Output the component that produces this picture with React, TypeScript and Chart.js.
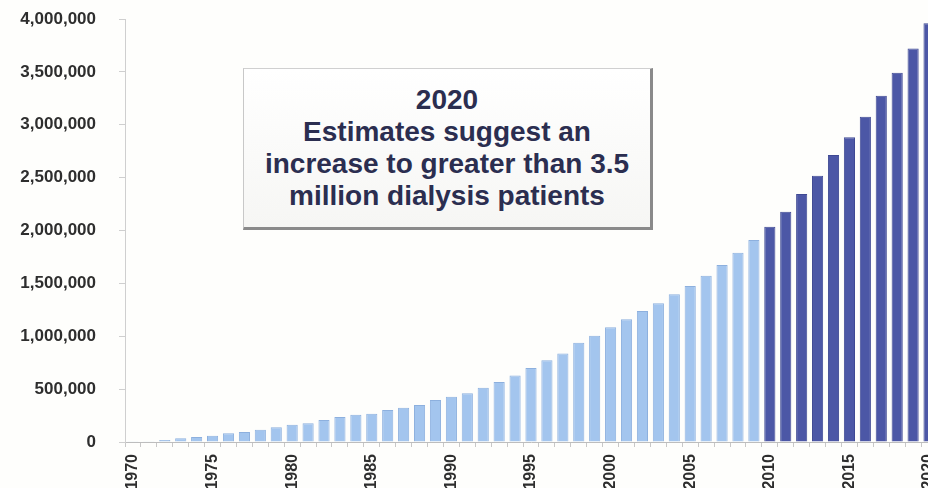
import React, { useEffect, useRef } from "react";
import { Chart, registerables } from "chart.js";

Chart.register(...registerables);

const years: string[] = [];
for (let y = 1970; y <= 2020; y++) years.push(String(y));

const actualPatients: number[] = [
  8000, 8000, 19000, 35000, 47000, 60000, 82000, 95000, 116000, 139000,
  164000, 177000, 208000, 236000, 258000, 268000, 303000, 324000, 350000, 397000,
  428000, 460000, 514000, 567000, 630000, 700000, 772000, 838000, 939000, 1005000,
  1084000, 1160000, 1239000, 1311000, 1396000, 1475000, 1573000, 1674000, 1790000, 1910000,
];

const projectedPatients: number[] = [
  2036000, 2178000, 2345000, 2518000, 2714000, 2881000, 3076000, 3275000, 3492000, 3722000, 3959000,
];

const yTicks: number[] = [0, 500000, 1000000, 1500000, 2000000, 2500000, 3000000, 3500000, 4000000];

const noteLines: string[] = [
  "2020",
  "Estimates suggest an",
  "increase to greater than 3.5",
  "million dialysis patients",
];

const FONT = "'Liberation Sans', Arial, Helvetica, sans-serif";

export default function App() {
  const ref = useRef<HTMLCanvasElement | null>(null);

  useEffect(() => {
    if (!ref.current) return;
    const nActual = actualPatients.length;
    const actualData = years.map((_, i) => (i < nActual ? actualPatients[i] : null));
    const projectedData = years.map((_, i) => (i >= nActual ? projectedPatients[i - nActual] : null));

    const chart = new Chart(ref.current, {
      type: "bar",
      data: {
        labels: years,
        datasets: [
          {
            label: "Dialysis patients",
            data: actualData,
            backgroundColor: "#a3c5ee",
            borderColor: "#8db0de",
            borderWidth: 1,
            grouped: false,
            categoryPercentage: 1,
            barPercentage: 0.7,
          },
          {
            label: "Projected",
            data: projectedData,
            backgroundColor: "#4c57a6",
            borderColor: "#3f4993",
            borderWidth: 1,
            grouped: false,
            categoryPercentage: 1,
            barPercentage: 0.7,
          },
        ],
      },
      options: {
        responsive: false,
        animation: false,
        layout: { padding: { top: 19, right: 0, left: 0, bottom: 0 } },
        plugins: {
          legend: { display: false },
          tooltip: { enabled: false },
        },
        scales: {
          x: {
            grid: {
              display: true,
              drawOnChartArea: false,
              drawTicks: true,
              tickLength: 5,
              color: "#c8c8c8",
              offset: true,
            },
            border: { display: true, color: "#bdbdbd" },
            ticks: {
              autoSkip: false,
              maxRotation: 90,
              minRotation: 90,
              padding: 7,
              color: "#2e2e2e",
              font: { family: FONT, size: 16, weight: "bold" },
              callback: function (_v: any, idx: number) {
                const y = Number(years[idx]);
                return y % 5 === 0 ? years[idx] : "";
              },
            },
            afterFit: (scale: any) => {
              scale.height = 46;
              scale.paddingLeft = 0;
              scale.paddingRight = 0;
            },
          },
          y: {
            min: 0,
            max: 4000000,
            afterBuildTicks: (scale: any) => {
              scale.ticks = yTicks.map((v) => ({ value: v }));
            },
            grid: {
              display: true,
              drawOnChartArea: false,
              drawTicks: true,
              tickLength: 6,
              color: "#cfcfcf",
            },
            border: { display: true, color: "#cfcfcf" },
            ticks: {
              padding: 23,
              color: "#2e2e2e",
              font: { family: FONT, size: 17, weight: "bold" },
              callback: (v: any) => Number(v).toLocaleString("en-US"),
            },
            afterFit: (scale: any) => {
              scale.width = 125;
              scale.paddingTop = 0;
              scale.paddingBottom = 0;
            },
          },
        },
      },
    });
    return () => chart.destroy();
  }, []);

  return (
    <div
      style={{
        position: "fixed",
        left: 0,
        top: 0,
        width: 928,
        height: 488,
        overflow: "hidden",
        background: "#fefefc",
      }}
    >
      <canvas ref={ref} width={937} height={488} style={{ display: "block" }} />
      <div
        style={{
          position: "absolute",
          left: 243,
          top: 68,
          width: 406,
          height: 158,
          borderTop: "1px solid #d0d0d0",
          borderLeft: "1px solid #c8c8c8",
          borderRight: "3px solid #8a8a8a",
          borderBottom: "3px solid #8a8a8a",
          background: "linear-gradient(#ffffff, #f6f6f4)",
          display: "flex",
          flexDirection: "column",
          justifyContent: "center",
          alignItems: "center",
          fontFamily: FONT,
          fontWeight: "bold",
          fontSize: 28,
          lineHeight: "32px",
          color: "#2b2e50",
          textAlign: "center",
        }}
      >
        {noteLines.map((t) => (
          <div key={t}>{t}</div>
        ))}
      </div>
    </div>
  );
}
